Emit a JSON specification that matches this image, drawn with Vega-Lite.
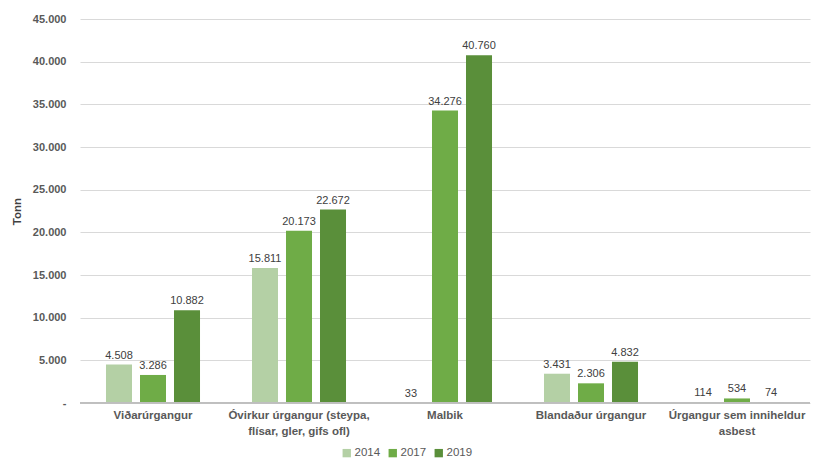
{
  "$schema": "https://vega.github.io/schema/vega-lite/v6.json",
  "width": 730,
  "height": 384,
  "autosize": {"type": "none"},
  "padding": {"left": 80, "top": 19, "right": 7, "bottom": 56},
  "config": {
    "locale": {"number": {"decimal": ",", "thousands": ".", "grouping": [3], "currency": ["", ""]}},
    "font": "Liberation Sans",
    "view": {"stroke": null}
  },
  "data": {
    "values": [
      {"cat": "Viðarúrgangur", "year": "2014", "value": 4508},
      {"cat": "Viðarúrgangur", "year": "2017", "value": 3286},
      {"cat": "Viðarúrgangur", "year": "2019", "value": 10882},
      {"cat": "Óvirkur úrgangur (steypa,|flísar, gler, gifs ofl)", "year": "2014", "value": 15811},
      {"cat": "Óvirkur úrgangur (steypa,|flísar, gler, gifs ofl)", "year": "2017", "value": 20173},
      {"cat": "Óvirkur úrgangur (steypa,|flísar, gler, gifs ofl)", "year": "2019", "value": 22672},
      {"cat": "Malbik", "year": "2014", "value": 33},
      {"cat": "Malbik", "year": "2017", "value": 34276},
      {"cat": "Malbik", "year": "2019", "value": 40760},
      {"cat": "Blandaður úrgangur", "year": "2014", "value": 3431},
      {"cat": "Blandaður úrgangur", "year": "2017", "value": 2306},
      {"cat": "Blandaður úrgangur", "year": "2019", "value": 4832},
      {"cat": "Úrgangur sem inniheldur|asbest", "year": "2014", "value": 114},
      {"cat": "Úrgangur sem inniheldur|asbest", "year": "2017", "value": 534},
      {"cat": "Úrgangur sem inniheldur|asbest", "year": "2019", "value": 74}
    ]
  },
  "encoding": {
    "x": {
      "field": "cat", "type": "nominal", "sort": null,
      "scale": {"paddingInner": 0.356, "paddingOuter": 0.178},
      "axis": {
        "title": null, "labelAngle": 0, "ticks": false, "domain": false,
        "labelExpr": "split(datum.label, '|')",
        "labelFont": "Liberation Sans", "labelFontWeight": "bold", "labelFontSize": 11.5,
        "labelColor": "#595959", "labelPadding": 6, "labelLineHeight": 16
      }
    },
    "xOffset": {"field": "year", "type": "nominal", "scale": {"paddingInner": 0.235}},
    "y": {
      "field": "value", "type": "quantitative",
      "scale": {"domain": [0, 45000], "nice": false},
      "axis": {
        "title": "Tonn", "titleFontWeight": "bold", "titleFontSize": 11.5, "titleColor": "#404040",
        "titlePadding": 10,
        "values": [0, 5000, 10000, 15000, 20000, 25000, 30000, 35000, 40000, 45000],
        "labelExpr": "datum.value == 0 ? '-' : datum.label",
        "format": ",d",
        "labelFontWeight": "bold", "labelFontSize": 11, "labelColor": "#595959",
        "labelPadding": 14,
        "ticks": false, "domain": false,
        "gridColor": "#d9d9d9", "gridWidth": 1
      }
    }
  },
  "layer": [
    {
      "mark": {"type": "bar"},
      "encoding": {
        "color": {
          "field": "year", "type": "nominal",
          "scale": {"domain": ["2014", "2017", "2019"], "range": ["#b4d0a5", "#6fac47", "#5a8f3a"]},
          "legend": {
            "title": null, "orient": "none", "direction": "horizontal",
            "legendX": 261, "legendY": 428,
            "symbolType": "square", "symbolSize": 70, "symbolStrokeWidth": 0,
            "labelFontSize": 11.5, "labelColor": "#595959", "columnPadding": 6, "labelOffset": 2
          }
        }
      }
    },
    {
      "mark": {"type": "text", "dy": -9, "fontSize": 11, "color": "#404040"},
      "encoding": {
        "text": {"field": "value", "type": "quantitative", "format": ",d"}
      }
    },
    {
      "mark": {"type": "rule", "color": "#bfbfbf"},
      "encoding": {"y": {"datum": 0}, "x": null, "xOffset": null}
    }
  ]
}
